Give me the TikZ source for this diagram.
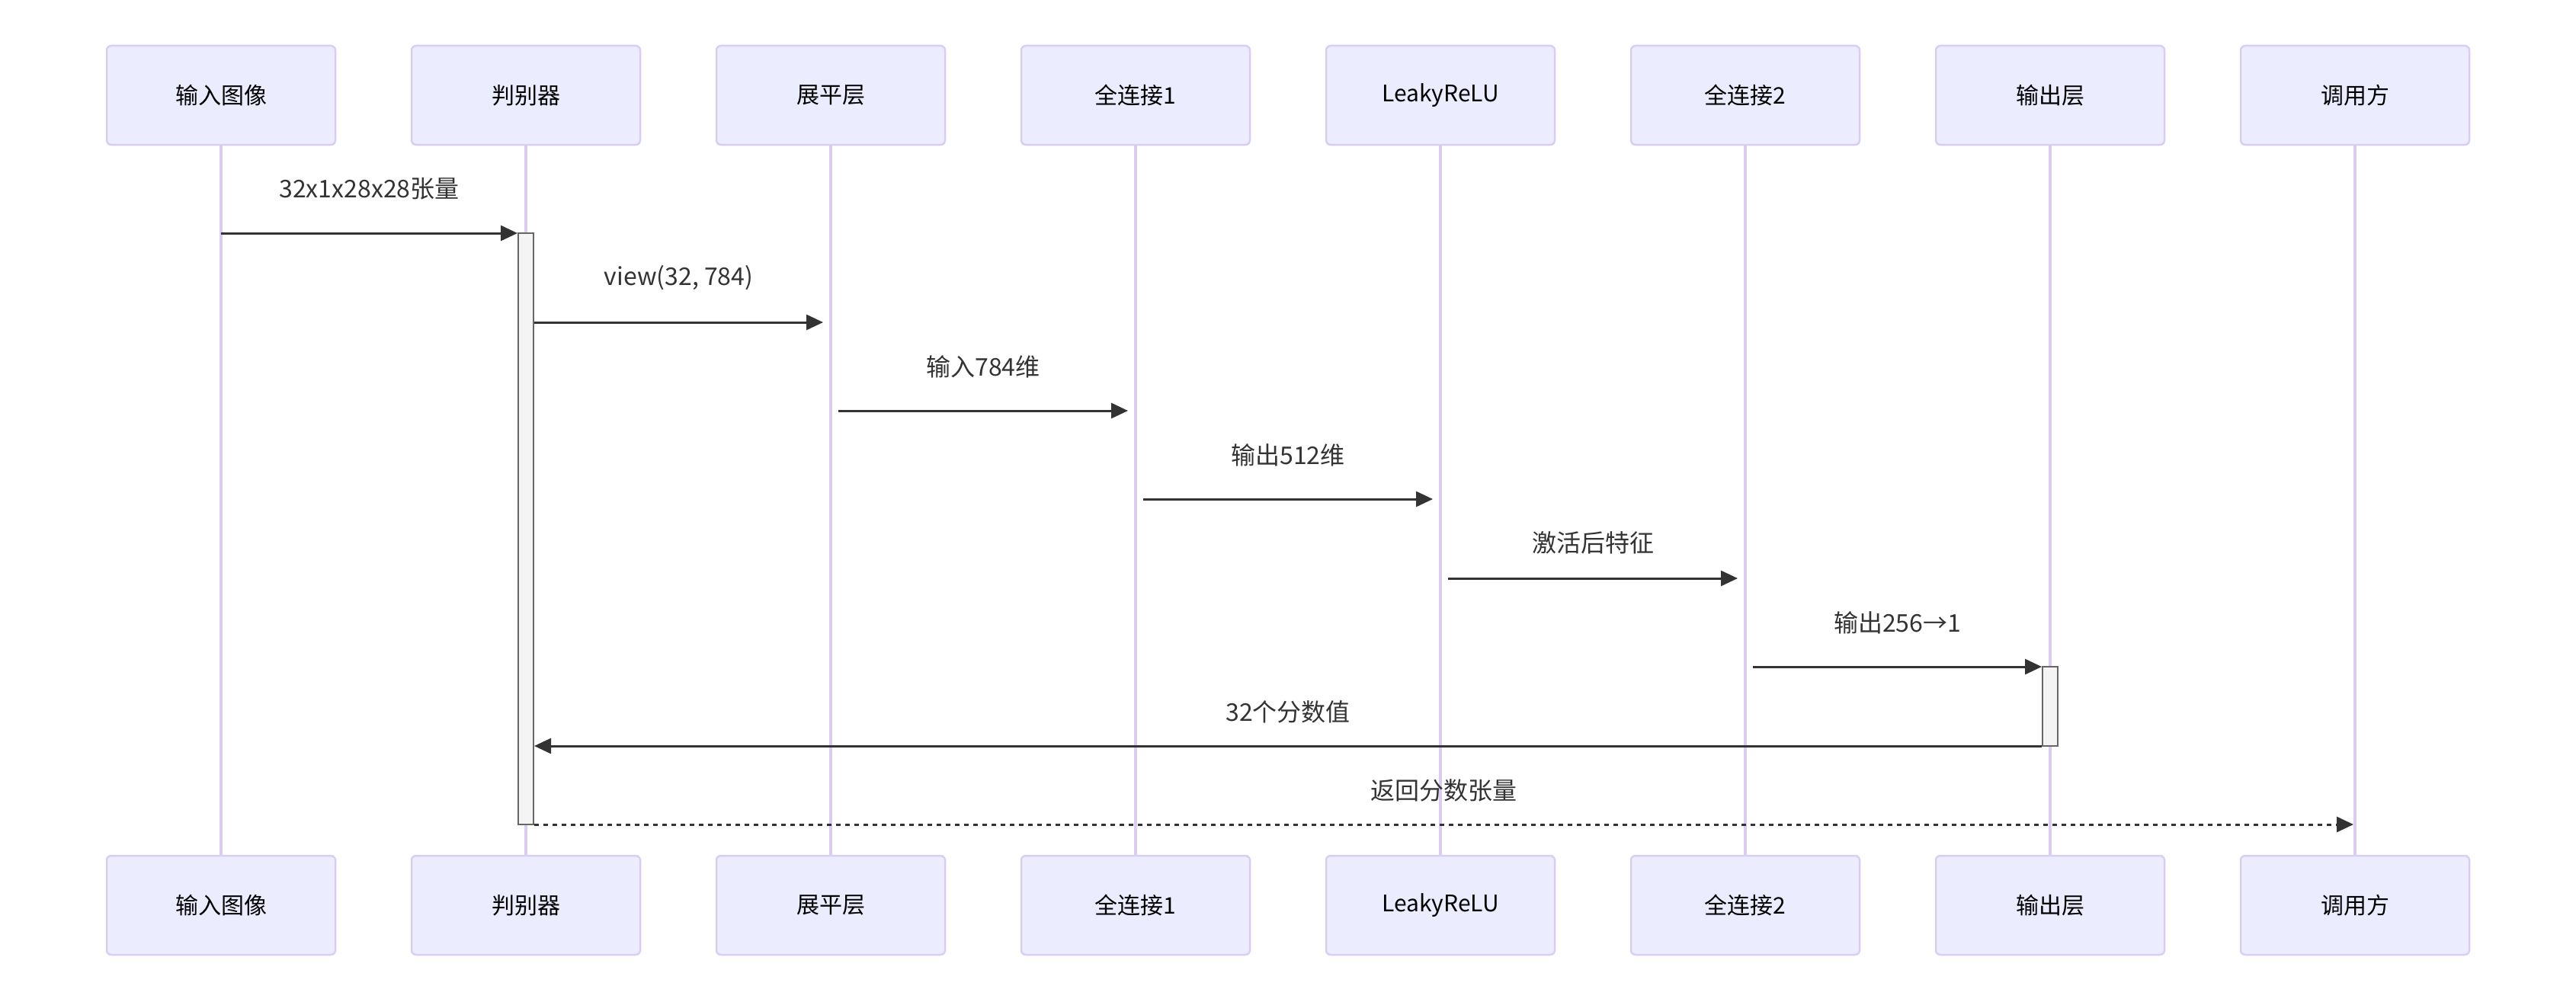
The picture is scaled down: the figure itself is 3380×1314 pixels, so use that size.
\documentclass[tikz,border=0pt]{standalone}
\usepackage{fontspec}
\setmainfont{Noto Sans CJK SC}
\usetikzlibrary{arrows.meta}
\definecolor{actorfill}{HTML}{ECECFF}
\definecolor{actorline}{HTML}{D9CEF2}
\definecolor{msgline}{HTML}{333333}
\definecolor{actfill}{HTML}{F4F4F4}
\definecolor{actline}{HTML}{666666}
\tikzset{
  actorbox/.style={draw=actorline, fill=actorfill, line width=2.5pt, rounded corners=6pt,
    minimum width=300pt, minimum height=130pt, inner sep=0pt,
    font=\fontsize{30}{36}\selectfont, text=black},
  lifeline/.style={actorline, line width=3.5pt},
  actbar/.style={draw=actline, fill=actfill, line width=2pt, minimum width=20pt, inner sep=0pt},
  msg/.style={msgline, line width=3pt, -{Triangle[length=22pt, width=20pt]}},
  msgtext/.style={midway, yshift=#1, font=\fontsize{32}{38}\selectfont, text=msgline},
  msgtext/.default=58pt
}

\begin{document}
\begin{tikzpicture}[x=1pt, y=-1pt]
    \useasboundingbox (0,0) rectangle (3380,1314);
    %actors on top and bottom, with their lifelines
    \foreach \name/\txt [count=\i] in {img/输入图像, disc/判别器, flat/展平层, fca/全连接1,
        relu/LeakyReLU, fcb/全连接2, out/输出层, caller/调用方} {
        \node[actorbox] (top\name) at ({290+400*(\i-1)},125) {\txt};
        \node[actorbox] (bot\name) at ({290+400*(\i-1)},1188) {\txt};
        \draw[lifeline] (top\name.south) -- (bot\name.north);
    }
    %activation bars
    \node[actbar, minimum height=776pt] (actdisc) at (690,694) {};
    \node[actbar, minimum height=104pt] (actout) at (2690,927) {};
    %rows of the messages
    \foreach \y [count=\i] in {306,423,539,655,759,875,979,1082}
        \coordinate (row\i) at (0,\y);
    \draw[msg] (topimg |- row1) -- (actdisc.west |- row1) node[msgtext] {32x1x28x28张量};
    \draw[msg] (actdisc.east |- row2) -- ([xshift=-10pt]topflat |- row2) node[msgtext] {view(32, 784)};
    \draw[msg] ([xshift=10pt]topflat |- row3) -- ([xshift=-10pt]topfca |- row3) node[msgtext] {输入784维};
    \draw[msg] ([xshift=10pt]topfca |- row4) -- ([xshift=-10pt]toprelu |- row4) node[msgtext] {输出512维};
    \draw[msg] ([xshift=10pt]toprelu |- row5) -- ([xshift=-10pt]topfcb |- row5) node[msgtext=47pt] {激活后特征};
    \draw[msg] ([xshift=10pt]topfcb |- row6) -- (actout.west |- row6) node[msgtext] {输出256→1};
    \draw[msg] (actout.west |- row7) -- (actdisc.east |- row7) node[msgtext=45pt] {32个分数值};
    \draw[msg, dash pattern=on 6pt off 6pt] (actdisc.east |- row8) -- ([xshift=-2pt]topcaller |- row8) node[msgtext=45pt] {返回分数张量};
\end{tikzpicture}
\end{document}
